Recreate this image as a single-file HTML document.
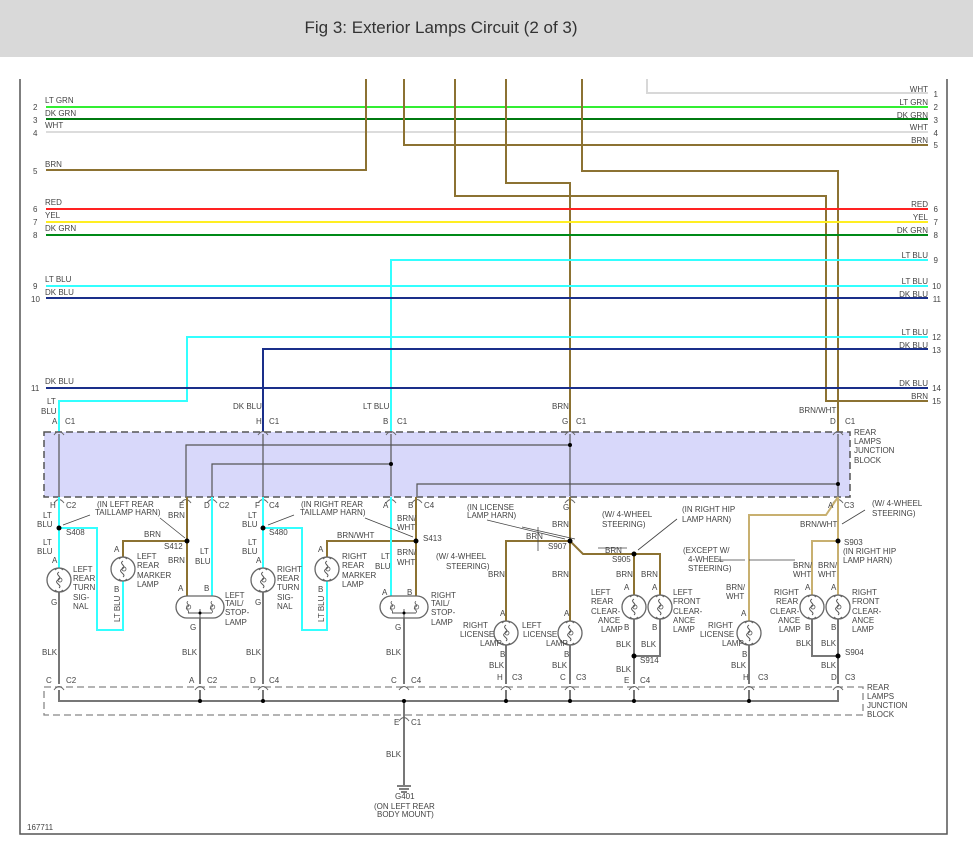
<!DOCTYPE html>
<html><head><meta charset="utf-8"><style>
html,body{margin:0;padding:0;background:#fff}
svg{display:block}
text{font-family:"Liberation Sans",sans-serif;font-size:8px;fill:#444}
.t{font-size:17px;fill:#333}
</style></head><body>
<svg width="973" height="848" viewBox="0 0 973 848" xmlns="http://www.w3.org/2000/svg">
<defs>
<g id="lamp">
<circle r="12" fill="#fff" stroke="#666" stroke-width="1.3"/>
<path d="M-4,-10 q4,-4 8,0 M-4,10 q4,4 8,0" fill="none" stroke="#666" stroke-width="1"/>
<path d="M0,-8 c-5,3 5,5 -1,8 c-5,3 5,5 1,8" fill="none" stroke="#555" stroke-width="1"/>
<circle cx="1" cy="0" r="2" fill="none" stroke="#555" stroke-width="0.8"/>
</g>
<g id="twin">
<rect x="-24" y="-11" width="48" height="22" rx="11" fill="#fff" stroke="#666" stroke-width="1.3"/>
<g transform="translate(-12,0) scale(0.7)"><path d="M0,-8 c-5,3 5,5 -1,8 c-5,3 5,5 1,8" fill="none" stroke="#555" stroke-width="1.2"/><circle cx="1" r="3" fill="none" stroke="#555"/></g>
<g transform="translate(12,0) scale(0.7)"><path d="M0,-8 c-5,3 5,5 -1,8 c-5,3 5,5 1,8" fill="none" stroke="#555" stroke-width="1.2"/><circle cx="1" r="3" fill="none" stroke="#555"/></g>
<path d="M-12,6 H12 M0,2 V11" stroke="#555" stroke-width="1" fill="none"/>
<circle cx="0" cy="6" r="1.5" fill="#000"/>
</g>
<path id="cn" d="M-5,3 q5,-7 10,0" fill="none" stroke="#666" stroke-width="1"/>
</defs>
<rect x="0" y="0" width="973" height="57" fill="#d9d9d9"/>
<text x="441" y="33" class="t" text-anchor="middle">Fig 3: Exterior Lamps Circuit (2 of 3)</text>
<g stroke="#555" stroke-width="1.5" fill="none">
<path d="M20,79 V834 H947 V79"/>
</g>
<!-- block fill -->
<rect x="44" y="432" width="806" height="65" fill="#d8d8fa" stroke="#555" stroke-width="1.5" stroke-dasharray="7,4"/>
<rect x="44" y="687" width="819" height="28" fill="none" stroke="#888" stroke-width="1.3" stroke-dasharray="7,4"/>
<g fill="none" stroke-width="2">
<path d="M647,79 V93 H928" stroke="#d8d8d8"/>
<path d="M46,107 H928" stroke="#33ee33"/>
<path d="M46,119 H928" stroke="#007a10"/>
<path d="M46,132 H928" stroke="#dcdcdc"/>
<path d="M404,79 V145 H928" stroke="#8c7232"/>
<path d="M46,170 H366 V79" stroke="#8c7232"/>
<path d="M455,79 V196 H826 V401 H928" stroke="#8c7232"/>
<path d="M506,79 V183 H570 V432" stroke="#8c7232"/>
<path d="M582,79 V171 H838 V432" stroke="#8c7232"/>
<path d="M46,209 H928" stroke="#ff2222"/>
<path d="M46,222 H928" stroke="#ffee22"/>
<path d="M46,235 H928" stroke="#008a18"/>
<path d="M928,260 H391 V432" stroke="#33ffff"/>
<path d="M46,286 H928" stroke="#33ffff"/>
<path d="M46,298 H928" stroke="#1a2f8a"/>
<path d="M928,337 H187 V401 H59 V432" stroke="#33ffff"/>
<path d="M928,349 H263 V432" stroke="#1a2f8a"/>
<path d="M46,388 H928" stroke="#1a2f8a"/>
</g>
<!-- block internal -->
<g fill="none" stroke="#555" stroke-width="1.2">
<path d="M59,434 V496 M263,434 V496 M391,434 V496 M570,434 V496 M838,434 V496"/>
<path d="M570,445 H186 V496 M391,464 H212 V496 M838,484 H417 V496"/>
</g>
<g fill="#000"><circle cx="570" cy="445" r="2"/><circle cx="391" cy="464" r="2"/><circle cx="838" cy="484" r="2"/></g>
<g>
<use href="#cn" x="59" y="432"/><use href="#cn" x="263" y="432"/><use href="#cn" x="391" y="432"/><use href="#cn" x="570" y="432"/><use href="#cn" x="838" y="432"/>
<use href="#cn" x="59" y="500"/><use href="#cn" x="186" y="500"/><use href="#cn" x="212" y="500"/><use href="#cn" x="263" y="500"/><use href="#cn" x="391" y="500"/><use href="#cn" x="417" y="500"/><use href="#cn" x="570" y="500"/><use href="#cn" x="838" y="500"/>
</g>
<!-- lower wires -->
<g fill="none" stroke-width="2">
<path d="M59,497 V568 M59,528 H97 V630 H123 V581" stroke="#33ffff"/>
<path d="M123,557 V541 H187 M187,497 V596" stroke="#8c7232"/>
<path d="M212,497 V596" stroke="#33ffff"/>
<path d="M263,497 V568 M263,528 H302 V630 H327 V581" stroke="#33ffff"/>
<path d="M327,557 V541 H416 M416,497 V596" stroke="#8c7232"/>
<path d="M391,497 V596" stroke="#33ffff"/>
<path d="M570,497 V621 M570,541 H506 V621 M570,541 L583,554 H660 V595 M634,554 V595" stroke="#8c7232"/>
<path d="M838,497 L826,515 H749 V621 M838,497 V595 M838,541 H812 V595" stroke="#c8b070"/>
</g>
<g fill="none" stroke="#777" stroke-width="2">
<path d="M59,592 V684 M200,618 V684 M263,592 V684 M404,618 V684 M404,700 V785"/>
<path d="M506,645 V684 M570,645 V684 M634,619 V684 M660,619 V656 H634 M749,645 V684 M838,619 V684 M812,619 V656 H838"/>
<path d="M59,690 V701 H838 V690 M200,690 V701 M263,690 V701 M506,690 V701 M570,690 V701 M634,690 V701 M749,690 V701"/>
</g>
<g fill="#000">
<circle cx="59" cy="528" r="2.5"/><circle cx="187" cy="541" r="2.5"/><circle cx="263" cy="528" r="2.5"/><circle cx="416" cy="541" r="2.5"/>
<circle cx="570" cy="541" r="2.5"/><circle cx="634" cy="554" r="2.5"/><circle cx="838" cy="541" r="2.5"/><circle cx="634" cy="656" r="2.5"/><circle cx="838" cy="656" r="2.5"/>
<circle cx="200" cy="701" r="2"/><circle cx="263" cy="701" r="2"/><circle cx="404" cy="701" r="2"/><circle cx="506" cy="701" r="2"/><circle cx="570" cy="701" r="2"/><circle cx="634" cy="701" r="2"/><circle cx="749" cy="701" r="2"/>
</g>
<g>
<use href="#cn" x="59" y="687"/><use href="#cn" x="200" y="687"/><use href="#cn" x="263" y="687"/><use href="#cn" x="404" y="687"/><use href="#cn" x="506" y="687"/><use href="#cn" x="570" y="687"/><use href="#cn" x="634" y="687"/><use href="#cn" x="749" y="687"/><use href="#cn" x="838" y="687"/><use href="#cn" x="404" y="718"/>
</g>
<!-- lamps -->
<use href="#lamp" x="59" y="580"/><use href="#lamp" x="123" y="569"/><use href="#lamp" x="263" y="580"/><use href="#lamp" x="327" y="569"/>
<use href="#twin" x="200" y="607"/><use href="#twin" x="404" y="607"/>
<use href="#lamp" x="506" y="633"/><use href="#lamp" x="570" y="633"/><use href="#lamp" x="634" y="607"/><use href="#lamp" x="660" y="607"/>
<use href="#lamp" x="749" y="633"/><use href="#lamp" x="812" y="607"/><use href="#lamp" x="838" y="607"/>
<!-- ground -->
<path d="M397,786 H411 M399,789 H409 M401,792 H407" stroke="#333" stroke-width="1.3"/>
<!-- arrows -->
<g stroke="#444" stroke-width="0.8" fill="none">
<path d="M90,515 L63,525 M160,518 L185,538 M294,515 L268,525 M365,518 L413,537 M487,520 L565,539 M522,527 L575,539 M538,527 V551 M677,519 L638,550 M598,548 H627 M795,560 H749 M718,560 H745 M865,510 L842,524"/>
</g>
<!-- left labels -->
<g>
<text x="45" y="103">LT GRN</text><text x="33" y="110">2</text>
<text x="45" y="116">DK GRN</text><text x="33" y="123">3</text>
<text x="45" y="128">WHT</text><text x="33" y="136">4</text>
<text x="45" y="167">BRN</text><text x="33" y="174">5</text>
<text x="45" y="205">RED</text><text x="33" y="212">6</text>
<text x="45" y="218">YEL</text><text x="33" y="225">7</text>
<text x="45" y="231">DK GRN</text><text x="33" y="238">8</text>
<text x="45" y="282">LT BLU</text><text x="33" y="289">9</text>
<text x="45" y="295">DK BLU</text><text x="31" y="302">10</text>
<text x="45" y="384">DK BLU</text><text x="31" y="391">11</text>
</g>
<g text-anchor="end">
<text x="928" y="92">WHT</text><text x="938" y="97">1</text>
<text x="928" y="105">LT GRN</text><text x="938" y="110">2</text>
<text x="928" y="118">DK GRN</text><text x="938" y="123">3</text>
<text x="928" y="130">WHT</text><text x="938" y="136">4</text>
<text x="928" y="143">BRN</text><text x="938" y="148">5</text>
<text x="928" y="207">RED</text><text x="938" y="212">6</text>
<text x="928" y="220">YEL</text><text x="938" y="225">7</text>
<text x="928" y="233">DK GRN</text><text x="938" y="238">8</text>
<text x="928" y="258">LT BLU</text><text x="938" y="263">9</text>
<text x="928" y="284">LT BLU</text><text x="941" y="289">10</text>
<text x="928" y="297">DK BLU</text><text x="941" y="302">11</text>
<text x="928" y="335">LT BLU</text><text x="941" y="340">12</text>
<text x="928" y="348">DK BLU</text><text x="941" y="353">13</text>
<text x="928" y="386">DK BLU</text><text x="941" y="391">14</text>
<text x="928" y="399">BRN</text><text x="941" y="404">15</text>
</g>
<!-- connector labels top -->
<g>
<text x="47" y="404">LT</text><text x="41" y="414">BLU</text>
<text x="52" y="424">A</text><text x="65" y="424">C1</text>
<text x="233" y="409">DK BLU</text><text x="256" y="424">H</text><text x="269" y="424">C1</text>
<text x="363" y="409">LT BLU</text><text x="383" y="424">B</text><text x="397" y="424">C1</text>
<text x="552" y="409">BRN</text><text x="562" y="424">G</text><text x="576" y="424">C1</text>
<text x="799" y="413">BRN/WHT</text><text x="830" y="424">D</text><text x="845" y="424">C1</text>
<text x="854" y="435">REAR</text><text x="854" y="444">LAMPS</text><text x="854" y="453">JUNCTION</text><text x="854" y="463">BLOCK</text>
</g>
<!-- lower labels -->
<g>
<text x="50" y="508">H</text><text x="66" y="508">C2</text>
<text x="43" y="518">LT</text><text x="37" y="527">BLU</text><text x="66" y="535">S408</text>
<text x="43" y="545">LT</text><text x="37" y="554">BLU</text><text x="52" y="563">A</text><text x="51" y="605">G</text>
<text x="73" y="572">LEFT</text><text x="73" y="581">REAR</text><text x="73" y="590">TURN</text><text x="73" y="600">SIG-</text><text x="73" y="609">NAL</text>
<text x="97" y="507">(IN LEFT REAR</text><text x="95" y="515">TAILLAMP HARN)</text>
<text x="179" y="508">E</text><text x="204" y="508">D</text><text x="219" y="508">C2</text>
<text x="168" y="518">BRN</text><text x="144" y="537">BRN</text><text x="164" y="549">S412</text>
<text x="168" y="563">BRN</text><text x="200" y="554">LT</text><text x="195" y="564">BLU</text>
<text x="114" y="552">A</text><text x="114" y="592">B</text>
<text x="137" y="559">LEFT</text><text x="137" y="568">REAR</text><text x="137" y="578">MARKER</text><text x="137" y="587">LAMP</text>
<text x="120" y="622" transform="rotate(-90 120 622)">LT BLU</text>
<text x="178" y="591">A</text><text x="204" y="591">B</text><text x="190" y="630">G</text>
<text x="225" y="598">LEFT</text><text x="225" y="606">TAIL/</text><text x="225" y="615">STOP-</text><text x="225" y="625">LAMP</text>
<text x="255" y="508">F</text><text x="269" y="508">C4</text>
<text x="248" y="518">LT</text><text x="242" y="527">BLU</text><text x="269" y="535">S480</text>
<text x="248" y="545">LT</text><text x="242" y="554">BLU</text><text x="256" y="563">A</text><text x="255" y="605">G</text>
<text x="277" y="572">RIGHT</text><text x="277" y="581">REAR</text><text x="277" y="590">TURN</text><text x="277" y="600">SIG-</text><text x="277" y="609">NAL</text>
<text x="301" y="507">(IN RIGHT REAR</text><text x="300" y="515">TAILLAMP HARN)</text>
<text x="337" y="538">BRN/WHT</text><text x="423" y="541">S413</text>
<text x="318" y="552">A</text><text x="318" y="592">B</text>
<text x="342" y="559">RIGHT</text><text x="342" y="568">REAR</text><text x="342" y="578">MARKER</text><text x="342" y="587">LAMP</text>
<text x="324" y="622" transform="rotate(-90 324 622)">LT BLU</text>
<text x="383" y="508">A</text><text x="408" y="508">B</text><text x="424" y="508">C4</text>
<text x="397" y="521">BRN/</text><text x="397" y="530">WHT</text>
<text x="381" y="559">LT</text><text x="375" y="569">BLU</text><text x="397" y="555">BRN/</text><text x="397" y="565">WHT</text>
<text x="382" y="595">A</text><text x="407" y="595">B</text><text x="395" y="630">G</text>
<text x="431" y="598">RIGHT</text><text x="431" y="606">TAIL/</text><text x="431" y="615">STOP-</text><text x="431" y="625">LAMP</text>
<text x="42" y="655">BLK</text><text x="182" y="655">BLK</text><text x="246" y="655">BLK</text><text x="386" y="655">BLK</text>
<text x="46" y="683">C</text><text x="66" y="683">C2</text><text x="189" y="683">A</text><text x="207" y="683">C2</text>
<text x="250" y="683">D</text><text x="269" y="683">C4</text><text x="391" y="683">C</text><text x="411" y="683">C4</text>
<text x="394" y="725">E</text><text x="411" y="725">C1</text><text x="386" y="757">BLK</text>
<text x="395" y="799">G401</text><text x="374" y="809">(ON LEFT REAR</text><text x="377" y="817">BODY MOUNT)</text>
<text x="27" y="830">167711</text>
<!-- right lower -->
<text x="467" y="510">(IN LICENSE</text><text x="467" y="518">LAMP HARN)</text>
<text x="563" y="510">G</text><text x="552" y="527">BRN</text><text x="526" y="539">BRN</text><text x="548" y="549">S907</text>
<text x="602" y="517">(W/ 4-WHEEL</text><text x="602" y="527">STEERING)</text>
<text x="682" y="512">(IN RIGHT HIP</text><text x="682" y="522">LAMP HARN)</text>
<text x="605" y="553">BRN</text><text x="612" y="562">S905</text>
<text x="436" y="559">(W/ 4-WHEEL</text><text x="446" y="569">STEERING)</text>
<text x="488" y="577">BRN</text><text x="552" y="577">BRN</text>
<text x="616" y="577">BRN</text><text x="641" y="577">BRN</text>
<text x="624" y="590">A</text><text x="652" y="590">A</text><text x="624" y="630">B</text><text x="652" y="630">B</text>
<text x="591" y="595">LEFT</text><text x="591" y="604">REAR</text><text x="591" y="614">CLEAR-</text><text x="598" y="623">ANCE</text><text x="601" y="632">LAMP</text>
<text x="673" y="595">LEFT</text><text x="673" y="604">FRONT</text><text x="673" y="614">CLEAR-</text><text x="673" y="623">ANCE</text><text x="673" y="632">LAMP</text>
<text x="616" y="647">BLK</text><text x="641" y="647">BLK</text><text x="640" y="663">S914</text>
<text x="616" y="672">BLK</text><text x="624" y="683">E</text><text x="640" y="683">C4</text>
<text x="500" y="616">A</text><text x="564" y="616">A</text>
<text x="463" y="628">RIGHT</text><text x="460" y="637">LICENSE</text><text x="480" y="646">LAMP</text>
<text x="522" y="628">LEFT</text><text x="523" y="637">LICENSE</text><text x="546" y="646">LAMP</text>
<text x="500" y="657">B</text><text x="564" y="657">B</text><text x="489" y="668">BLK</text><text x="552" y="668">BLK</text>
<text x="497" y="680">H</text><text x="512" y="680">C3</text><text x="560" y="680">C</text><text x="576" y="680">C3</text>
<text x="683" y="553">(EXCEPT W/</text><text x="688" y="562">4-WHEEL</text><text x="688" y="571">STEERING)</text>
<text x="726" y="590">BRN/</text><text x="726" y="599">WHT</text><text x="741" y="616">A</text>
<text x="708" y="628">RIGHT</text><text x="700" y="637">LICENSE</text><text x="722" y="646">LAMP</text>
<text x="742" y="657">B</text><text x="731" y="668">BLK</text><text x="743" y="680">H</text><text x="758" y="680">C3</text>
<text x="828" y="508">A</text><text x="844" y="508">C3</text>
<text x="872" y="506">(W/ 4-WHEEL</text><text x="872" y="516">STEERING)</text>
<text x="800" y="527">BRN/WHT</text><text x="844" y="545">S903</text>
<text x="843" y="554">(IN RIGHT HIP</text><text x="843" y="563">LAMP HARN)</text>
<text x="793" y="568">BRN/</text><text x="793" y="577">WHT</text><text x="818" y="568">BRN/</text><text x="818" y="577">WHT</text>
<text x="805" y="590">A</text><text x="831" y="590">A</text><text x="805" y="630">B</text><text x="831" y="630">B</text>
<text x="774" y="595">RIGHT</text><text x="776" y="604">REAR</text><text x="770" y="614">CLEAR-</text><text x="778" y="623">ANCE</text><text x="779" y="632">LAMP</text>
<text x="852" y="595">RIGHT</text><text x="852" y="604">FRONT</text><text x="852" y="614">CLEAR-</text><text x="852" y="623">ANCE</text><text x="852" y="632">LAMP</text>
<text x="796" y="646">BLK</text><text x="821" y="646">BLK</text><text x="845" y="655">S904</text>
<text x="821" y="668">BLK</text><text x="831" y="680">D</text><text x="845" y="680">C3</text>
<text x="867" y="690">REAR</text><text x="867" y="699">LAMPS</text><text x="867" y="708">JUNCTION</text><text x="867" y="717">BLOCK</text>
</g>
</svg>
</body></html>
